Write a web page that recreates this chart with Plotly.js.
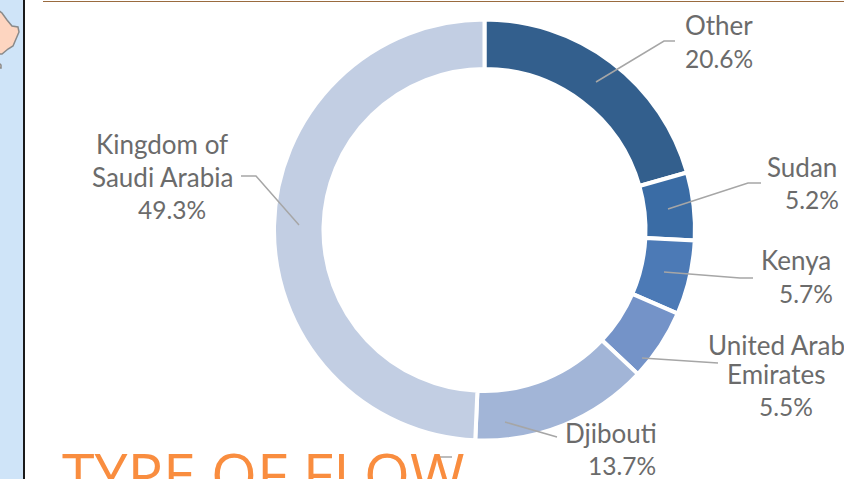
<!DOCTYPE html>
<html><head><meta charset="utf-8">
<script src="https://cdn.plot.ly/plotly-3.0.1.min.js"></script>
<style>html,body{margin:0;padding:0;background:#fff;overflow:hidden}#c{width:844px;height:479px}</style>
</head><body><div id="c"></div>
<script>
const categories=["Other","Sudan","Kenya","United Arab Emirates","Djibouti","Kingdom of Saudi Arabia"];
const shares=[20.6,5.2,5.7,5.5,13.7,49.3];
const colors=["#335f8d","#3a6ca5","#4c7ab6","#7493c8","#a2b5d7","#c2cee3"];
const W=844,H=479;
const px=x=>x/W, py=y=>1-y/H;
const placed=[
 ["Other",719,25],["20.6%",719,58],
 ["Sudan",802,167],["5.2%",812,199],
 ["Kenya",796,260],["5.7%",806,293],
 ["United Arab",776,345],["Emirates",776,374],["5.5%",786,406],
 ["Djibouti",611,433],["13.7%",622,465],
 ["Kingdom of",162,144],["Saudi Arabia",162,177],["49.3%",172,209]
];
const leaders=[
 "M596,82 L664,41 L675,41","M668,209 L748,183 L761,183","M664,272 L740,278 L753,278",
 "M642,358 L718,363","M505,422 L557,437","M299,225 L256,176 L241,176","M440,457 L452,457"
];
const shapes=[
 {type:"rect",xref:"paper",yref:"paper",x0:0,x1:px(23),y0:0,y1:1,fillcolor:"#cfe4f8",line:{width:0},layer:"below"},
 {type:"rect",xref:"paper",yref:"paper",x0:px(23),x1:px(25),y0:0,y1:1,fillcolor:"#1a1a1a",line:{width:0},layer:"below"},
 {type:"rect",xref:"paper",yref:"paper",x0:px(43),x1:1,y0:py(2),y1:py(1),fillcolor:"#9a6b3f",line:{width:0}}
];
const pxPath=(pts,close)=>"M"+pts.map(p=>px(p[0])+","+py(p[1])).join(" L")+(close?" Z":"");
shapes.push({type:"path",xref:"paper",yref:"paper",layer:"below",
 path:pxPath([[-2,10],[2,13],[7,20],[12,26],[18,27],[19,32],[13,46],[8,49],[2,54],[-2,54]],true),
 fillcolor:"#fdd5c0",line:{color:"#8a8a8a",width:1.5}});
shapes.push({type:"path",xref:"paper",yref:"paper",layer:"below",
 path:pxPath([[-2,62],[1,65],[1,68],[-2,68]],true),fillcolor:"#fdd5c0",line:{color:"#8a8a8a",width:1.5}});
leaders.forEach(d=>{
 const pts=d.replace(/M|L/g," ").trim().split(/\s+/).map(s=>s.split(",").map(Number));
 shapes.push({type:"path",xref:"paper",yref:"paper",path:pxPath(pts,false),line:{color:"#a6a6a6",width:1.5}});
});
const annotations=placed.map(([t,x,y])=>({text:t,xref:"paper",yref:"paper",x:px(x),y:py(y),xanchor:"center",yanchor:"middle",showarrow:false,
 font:{family:"Lato, sans-serif",size:t.endsWith("%")?24.5:26,color:"#6b6b6b"}}));
annotations.push({text:"TYPE OF FLOW",xref:"paper",yref:"paper",x:px(60),y:py(431),xanchor:"left",yanchor:"top",showarrow:false,
 font:{family:"Open Sans, sans-serif",size:59,color:"#f98d3f"}});
Plotly.newPlot("c",[{type:"pie",labels:categories,values:shares,sort:false,direction:"clockwise",rotation:0,hole:0.765,
 textinfo:"none",showlegend:false,marker:{colors:colors,line:{color:"#fff",width:4}},
 domain:{x:[px(274),px(695)],y:[py(441),py(19)]}}],
 {width:W,height:H,margin:{l:0,r:0,t:0,b:0},paper_bgcolor:"#fff",showlegend:false,shapes,annotations},
 {displayModeBar:false,staticPlot:true});
</script></body></html>
